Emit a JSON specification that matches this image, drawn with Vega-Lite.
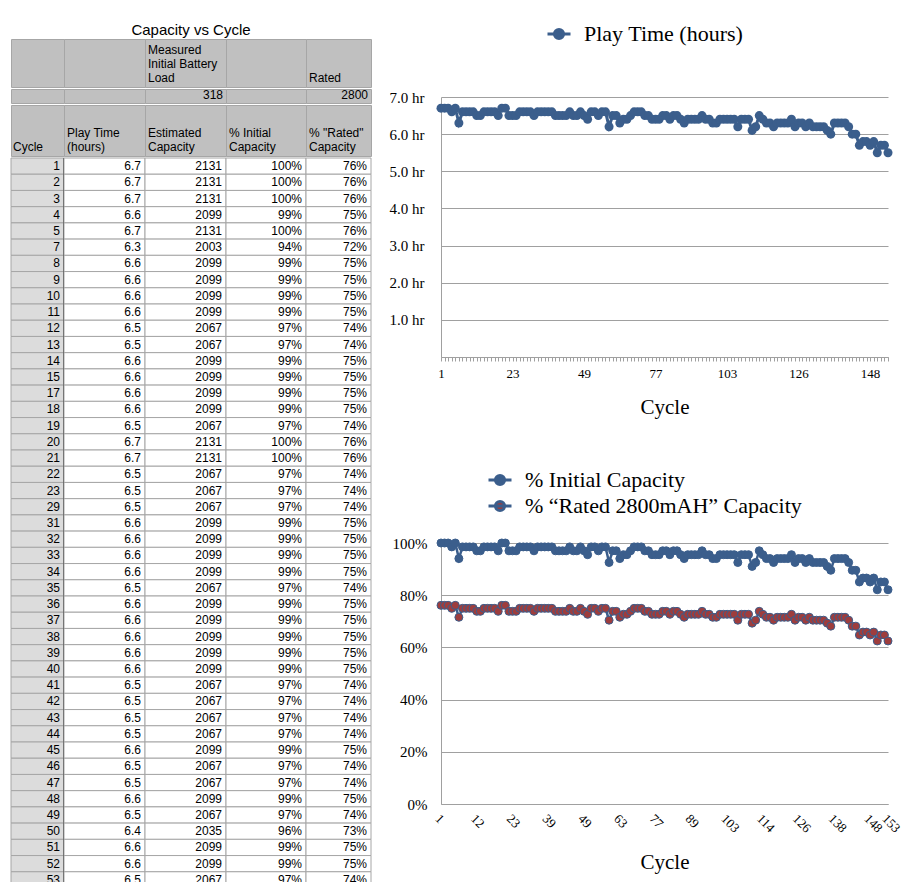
{
"$schema": "https://vega.github.io/schema/vega-lite/v6.json",
"padding": {"left": 10, "top": 21, "right": 8, "bottom": 0},
"background": "white",
"config": {
  "view": {"stroke": null},
  "font": "Liberation Serif",
  "axis": {"labelFont": "Liberation Serif", "titleFont": "Liberation Serif", "labelColor": "black", "titleColor": "black", "titleFontWeight": "normal", "gridColor": "#a0a0a0", "domainColor": "#a0a0a0", "tickColor": "#a0a0a0"},
  "legend": {"labelFont": "Liberation Serif", "labelColor": "black", "labelLimit": 0}
},
"datasets": {"cap": [
{"Cycle":1,"Play":6.7,"Capacity":2131,"PctInitial":1,"PctRated":0.7611},
{"Cycle":2,"Play":6.7,"Capacity":2131,"PctInitial":1,"PctRated":0.7611},
{"Cycle":3,"Play":6.7,"Capacity":2131,"PctInitial":1,"PctRated":0.7611},
{"Cycle":4,"Play":6.6,"Capacity":2099,"PctInitial":0.9851,"PctRated":0.7496},
{"Cycle":5,"Play":6.7,"Capacity":2131,"PctInitial":1,"PctRated":0.7611},
{"Cycle":7,"Play":6.3,"Capacity":2003,"PctInitial":0.9403,"PctRated":0.7154},
{"Cycle":8,"Play":6.6,"Capacity":2099,"PctInitial":0.9851,"PctRated":0.7496},
{"Cycle":9,"Play":6.6,"Capacity":2099,"PctInitial":0.9851,"PctRated":0.7496},
{"Cycle":10,"Play":6.6,"Capacity":2099,"PctInitial":0.9851,"PctRated":0.7496},
{"Cycle":11,"Play":6.6,"Capacity":2099,"PctInitial":0.9851,"PctRated":0.7496},
{"Cycle":12,"Play":6.5,"Capacity":2067,"PctInitial":0.9701,"PctRated":0.7382},
{"Cycle":13,"Play":6.5,"Capacity":2067,"PctInitial":0.9701,"PctRated":0.7382},
{"Cycle":14,"Play":6.6,"Capacity":2099,"PctInitial":0.9851,"PctRated":0.7496},
{"Cycle":15,"Play":6.6,"Capacity":2099,"PctInitial":0.9851,"PctRated":0.7496},
{"Cycle":17,"Play":6.6,"Capacity":2099,"PctInitial":0.9851,"PctRated":0.7496},
{"Cycle":18,"Play":6.6,"Capacity":2099,"PctInitial":0.9851,"PctRated":0.7496},
{"Cycle":19,"Play":6.5,"Capacity":2067,"PctInitial":0.9701,"PctRated":0.7382},
{"Cycle":20,"Play":6.7,"Capacity":2131,"PctInitial":1,"PctRated":0.7611},
{"Cycle":21,"Play":6.7,"Capacity":2131,"PctInitial":1,"PctRated":0.7611},
{"Cycle":22,"Play":6.5,"Capacity":2067,"PctInitial":0.9701,"PctRated":0.7382},
{"Cycle":23,"Play":6.5,"Capacity":2067,"PctInitial":0.9701,"PctRated":0.7382},
{"Cycle":29,"Play":6.5,"Capacity":2067,"PctInitial":0.9701,"PctRated":0.7382},
{"Cycle":31,"Play":6.6,"Capacity":2099,"PctInitial":0.9851,"PctRated":0.7496},
{"Cycle":32,"Play":6.6,"Capacity":2099,"PctInitial":0.9851,"PctRated":0.7496},
{"Cycle":33,"Play":6.6,"Capacity":2099,"PctInitial":0.9851,"PctRated":0.7496},
{"Cycle":34,"Play":6.6,"Capacity":2099,"PctInitial":0.9851,"PctRated":0.7496},
{"Cycle":35,"Play":6.5,"Capacity":2067,"PctInitial":0.9701,"PctRated":0.7382},
{"Cycle":36,"Play":6.6,"Capacity":2099,"PctInitial":0.9851,"PctRated":0.7496},
{"Cycle":37,"Play":6.6,"Capacity":2099,"PctInitial":0.9851,"PctRated":0.7496},
{"Cycle":38,"Play":6.6,"Capacity":2099,"PctInitial":0.9851,"PctRated":0.7496},
{"Cycle":39,"Play":6.6,"Capacity":2099,"PctInitial":0.9851,"PctRated":0.7496},
{"Cycle":40,"Play":6.6,"Capacity":2099,"PctInitial":0.9851,"PctRated":0.7496},
{"Cycle":41,"Play":6.5,"Capacity":2067,"PctInitial":0.9701,"PctRated":0.7382},
{"Cycle":42,"Play":6.5,"Capacity":2067,"PctInitial":0.9701,"PctRated":0.7382},
{"Cycle":43,"Play":6.5,"Capacity":2067,"PctInitial":0.9701,"PctRated":0.7382},
{"Cycle":44,"Play":6.5,"Capacity":2067,"PctInitial":0.9701,"PctRated":0.7382},
{"Cycle":45,"Play":6.6,"Capacity":2099,"PctInitial":0.9851,"PctRated":0.7496},
{"Cycle":46,"Play":6.5,"Capacity":2067,"PctInitial":0.9701,"PctRated":0.7382},
{"Cycle":47,"Play":6.5,"Capacity":2067,"PctInitial":0.9701,"PctRated":0.7382},
{"Cycle":48,"Play":6.6,"Capacity":2099,"PctInitial":0.9851,"PctRated":0.7496},
{"Cycle":49,"Play":6.5,"Capacity":2067,"PctInitial":0.9701,"PctRated":0.7382},
{"Cycle":50,"Play":6.4,"Capacity":2035,"PctInitial":0.9552,"PctRated":0.7268},
{"Cycle":51,"Play":6.6,"Capacity":2099,"PctInitial":0.9851,"PctRated":0.7496},
{"Cycle":52,"Play":6.6,"Capacity":2099,"PctInitial":0.9851,"PctRated":0.7496},
{"Cycle":53,"Play":6.5,"Capacity":2067,"PctInitial":0.9701,"PctRated":0.7382},
{"Cycle":54,"Play":6.6,"Capacity":2099,"PctInitial":0.9851,"PctRated":0.7496},
{"Cycle":55,"Play":6.6,"Capacity":2099,"PctInitial":0.9851,"PctRated":0.7496},
{"Cycle":57,"Play":6.2,"Capacity":1972,"PctInitial":0.9254,"PctRated":0.7043},
{"Cycle":59,"Play":6.5,"Capacity":2067,"PctInitial":0.9701,"PctRated":0.7382},
{"Cycle":61,"Play":6.5,"Capacity":2067,"PctInitial":0.9701,"PctRated":0.7382},
{"Cycle":63,"Play":6.3,"Capacity":2003,"PctInitial":0.9403,"PctRated":0.7154},
{"Cycle":64,"Play":6.4,"Capacity":2035,"PctInitial":0.9552,"PctRated":0.7268},
{"Cycle":65,"Play":6.4,"Capacity":2035,"PctInitial":0.9552,"PctRated":0.7268},
{"Cycle":67,"Play":6.5,"Capacity":2067,"PctInitial":0.9701,"PctRated":0.7382},
{"Cycle":68,"Play":6.6,"Capacity":2099,"PctInitial":0.9851,"PctRated":0.7496},
{"Cycle":70,"Play":6.6,"Capacity":2099,"PctInitial":0.9851,"PctRated":0.7496},
{"Cycle":71,"Play":6.6,"Capacity":2099,"PctInitial":0.9851,"PctRated":0.7496},
{"Cycle":73,"Play":6.5,"Capacity":2067,"PctInitial":0.9701,"PctRated":0.7382},
{"Cycle":74,"Play":6.5,"Capacity":2067,"PctInitial":0.9701,"PctRated":0.7382},
{"Cycle":76,"Play":6.4,"Capacity":2035,"PctInitial":0.9552,"PctRated":0.7268},
{"Cycle":77,"Play":6.4,"Capacity":2035,"PctInitial":0.9552,"PctRated":0.7268},
{"Cycle":78,"Play":6.4,"Capacity":2035,"PctInitial":0.9552,"PctRated":0.7268},
{"Cycle":79,"Play":6.5,"Capacity":2067,"PctInitial":0.9701,"PctRated":0.7382},
{"Cycle":80,"Play":6.5,"Capacity":2067,"PctInitial":0.9701,"PctRated":0.7382},
{"Cycle":82,"Play":6.4,"Capacity":2035,"PctInitial":0.9552,"PctRated":0.7268},
{"Cycle":83,"Play":6.5,"Capacity":2067,"PctInitial":0.9701,"PctRated":0.7382},
{"Cycle":84,"Play":6.5,"Capacity":2067,"PctInitial":0.9701,"PctRated":0.7382},
{"Cycle":85,"Play":6.4,"Capacity":2035,"PctInitial":0.9552,"PctRated":0.7268},
{"Cycle":86,"Play":6.3,"Capacity":2003,"PctInitial":0.9403,"PctRated":0.7154},
{"Cycle":88,"Play":6.4,"Capacity":2035,"PctInitial":0.9552,"PctRated":0.7268},
{"Cycle":89,"Play":6.4,"Capacity":2035,"PctInitial":0.9552,"PctRated":0.7268},
{"Cycle":90,"Play":6.4,"Capacity":2035,"PctInitial":0.9552,"PctRated":0.7268},
{"Cycle":92,"Play":6.4,"Capacity":2035,"PctInitial":0.9552,"PctRated":0.7268},
{"Cycle":93,"Play":6.5,"Capacity":2067,"PctInitial":0.9701,"PctRated":0.7382},
{"Cycle":95,"Play":6.4,"Capacity":2035,"PctInitial":0.9552,"PctRated":0.7268},
{"Cycle":96,"Play":6.4,"Capacity":2035,"PctInitial":0.9552,"PctRated":0.7268},
{"Cycle":98,"Play":6.3,"Capacity":2003,"PctInitial":0.9403,"PctRated":0.7154},
{"Cycle":99,"Play":6.3,"Capacity":2003,"PctInitial":0.9403,"PctRated":0.7154},
{"Cycle":100,"Play":6.4,"Capacity":2035,"PctInitial":0.9552,"PctRated":0.7268},
{"Cycle":102,"Play":6.4,"Capacity":2035,"PctInitial":0.9552,"PctRated":0.7268},
{"Cycle":103,"Play":6.4,"Capacity":2035,"PctInitial":0.9552,"PctRated":0.7268},
{"Cycle":104,"Play":6.4,"Capacity":2035,"PctInitial":0.9552,"PctRated":0.7268},
{"Cycle":105,"Play":6.4,"Capacity":2035,"PctInitial":0.9552,"PctRated":0.7268},
{"Cycle":106,"Play":6.2,"Capacity":1972,"PctInitial":0.9254,"PctRated":0.7043},
{"Cycle":107,"Play":6.4,"Capacity":2035,"PctInitial":0.9552,"PctRated":0.7268},
{"Cycle":108,"Play":6.4,"Capacity":2035,"PctInitial":0.9552,"PctRated":0.7268},
{"Cycle":109,"Play":6.4,"Capacity":2035,"PctInitial":0.9552,"PctRated":0.7268},
{"Cycle":110,"Play":6.1,"Capacity":1940,"PctInitial":0.9104,"PctRated":0.6929},
{"Cycle":111,"Play":6.2,"Capacity":1972,"PctInitial":0.9254,"PctRated":0.7043},
{"Cycle":113,"Play":6.5,"Capacity":2067,"PctInitial":0.9701,"PctRated":0.7382},
{"Cycle":114,"Play":6.4,"Capacity":2035,"PctInitial":0.9552,"PctRated":0.7268},
{"Cycle":115,"Play":6.3,"Capacity":2003,"PctInitial":0.9403,"PctRated":0.7154},
{"Cycle":116,"Play":6.3,"Capacity":2003,"PctInitial":0.9403,"PctRated":0.7154},
{"Cycle":117,"Play":6.2,"Capacity":1972,"PctInitial":0.9254,"PctRated":0.7043},
{"Cycle":119,"Play":6.3,"Capacity":2003,"PctInitial":0.9403,"PctRated":0.7154},
{"Cycle":120,"Play":6.3,"Capacity":2003,"PctInitial":0.9403,"PctRated":0.7154},
{"Cycle":121,"Play":6.3,"Capacity":2003,"PctInitial":0.9403,"PctRated":0.7154},
{"Cycle":122,"Play":6.3,"Capacity":2003,"PctInitial":0.9403,"PctRated":0.7154},
{"Cycle":123,"Play":6.4,"Capacity":2035,"PctInitial":0.9552,"PctRated":0.7268},
{"Cycle":125,"Play":6.2,"Capacity":1972,"PctInitial":0.9254,"PctRated":0.7043},
{"Cycle":126,"Play":6.3,"Capacity":2003,"PctInitial":0.9403,"PctRated":0.7154},
{"Cycle":127,"Play":6.3,"Capacity":2003,"PctInitial":0.9403,"PctRated":0.7154},
{"Cycle":128,"Play":6.2,"Capacity":1972,"PctInitial":0.9254,"PctRated":0.7043},
{"Cycle":129,"Play":6.3,"Capacity":2003,"PctInitial":0.9403,"PctRated":0.7154},
{"Cycle":130,"Play":6.2,"Capacity":1972,"PctInitial":0.9254,"PctRated":0.7043},
{"Cycle":132,"Play":6.2,"Capacity":1972,"PctInitial":0.9254,"PctRated":0.7043},
{"Cycle":133,"Play":6.2,"Capacity":1972,"PctInitial":0.9254,"PctRated":0.7043},
{"Cycle":134,"Play":6.2,"Capacity":1972,"PctInitial":0.9254,"PctRated":0.7043},
{"Cycle":135,"Play":6.1,"Capacity":1940,"PctInitial":0.9104,"PctRated":0.6929},
{"Cycle":137,"Play":6.0,"Capacity":1908,"PctInitial":0.8955,"PctRated":0.6814},
{"Cycle":138,"Play":6.3,"Capacity":2003,"PctInitial":0.9403,"PctRated":0.7154},
{"Cycle":139,"Play":6.3,"Capacity":2003,"PctInitial":0.9403,"PctRated":0.7154},
{"Cycle":140,"Play":6.3,"Capacity":2003,"PctInitial":0.9403,"PctRated":0.7154},
{"Cycle":141,"Play":6.3,"Capacity":2003,"PctInitial":0.9403,"PctRated":0.7154},
{"Cycle":142,"Play":6.2,"Capacity":1972,"PctInitial":0.9254,"PctRated":0.7043},
{"Cycle":143,"Play":6.0,"Capacity":1908,"PctInitial":0.8955,"PctRated":0.6814},
{"Cycle":144,"Play":6.0,"Capacity":1908,"PctInitial":0.8955,"PctRated":0.6814},
{"Cycle":145,"Play":5.7,"Capacity":1813,"PctInitial":0.8507,"PctRated":0.6475},
{"Cycle":146,"Play":5.8,"Capacity":1844,"PctInitial":0.8657,"PctRated":0.6586},
{"Cycle":147,"Play":5.8,"Capacity":1844,"PctInitial":0.8657,"PctRated":0.6586},
{"Cycle":148,"Play":5.7,"Capacity":1813,"PctInitial":0.8507,"PctRated":0.6475},
{"Cycle":149,"Play":5.8,"Capacity":1844,"PctInitial":0.8657,"PctRated":0.6586},
{"Cycle":150,"Play":5.5,"Capacity":1749,"PctInitial":0.8209,"PctRated":0.6246},
{"Cycle":151,"Play":5.7,"Capacity":1813,"PctInitial":0.8507,"PctRated":0.6475},
{"Cycle":152,"Play":5.7,"Capacity":1813,"PctInitial":0.8507,"PctRated":0.6475},
{"Cycle":153,"Play":5.5,"Capacity":1749,"PctInitial":0.8209,"PctRated":0.6246}
]},
"resolve": {"scale": {"x": "independent", "y": "independent", "color": "independent"}},
"spacing": 17,
"hconcat": [
 {
  "title": {"text": "Capacity vs Cycle", "font": "Liberation Sans", "fontSize": 15, "fontWeight": "normal", "anchor": "middle", "offset": 1, "color": "black"},
  "spacing": 0,
  "vconcat": [
   {"bounds": "flush", "spacing": 0, "hconcat": [
     {"width": 53, "height": 48, "view": {"fill": "#c0c0c0", "stroke": "#a6a6a6"}, "data": {"values": [{"t": ""}]}, "mark": {"type": "text", "align": "left", "baseline": "bottom", "dx": 3, "dy": -2, "font": "Liberation Sans", "fontSize": 12, "lineHeight": 14, "color": "black"}, "encoding": {"x": {"value": 0}, "y": {"value": "height"}, "text": {"field": "t"}}},
     {"width": 81, "height": 48, "view": {"fill": "#c0c0c0", "stroke": "#a6a6a6"}, "data": {"values": [{"t": ""}]}, "mark": {"type": "text", "align": "left", "baseline": "bottom", "dx": 3, "dy": -2, "font": "Liberation Sans", "fontSize": 12, "lineHeight": 14, "color": "black"}, "encoding": {"x": {"value": 0}, "y": {"value": "height"}, "text": {"field": "t"}}},
     {"width": 81, "height": 48, "view": {"fill": "#c0c0c0", "stroke": "#a6a6a6"}, "data": {"values": [{"t": ["Measured", "Initial Battery", "Load"]}]}, "mark": {"type": "text", "align": "left", "baseline": "bottom", "dx": 3, "dy": -30, "font": "Liberation Sans", "fontSize": 12, "lineHeight": 14, "color": "black"}, "encoding": {"x": {"value": 0}, "y": {"value": "height"}, "text": {"field": "t"}}},
     {"width": 80, "height": 48, "view": {"fill": "#c0c0c0", "stroke": "#a6a6a6"}, "data": {"values": [{"t": ""}]}, "mark": {"type": "text", "align": "left", "baseline": "bottom", "dx": 3, "dy": -2, "font": "Liberation Sans", "fontSize": 12, "lineHeight": 14, "color": "black"}, "encoding": {"x": {"value": 0}, "y": {"value": "height"}, "text": {"field": "t"}}},
     {"width": 65, "height": 48, "view": {"fill": "#c0c0c0", "stroke": "#a6a6a6"}, "data": {"values": [{"t": "Rated"}]}, "mark": {"type": "text", "align": "left", "baseline": "bottom", "dx": 3, "dy": -2, "font": "Liberation Sans", "fontSize": 12, "lineHeight": 14, "color": "black"}, "encoding": {"x": {"value": 0}, "y": {"value": "height"}, "text": {"field": "t"}}}
   ]},
   {"bounds": "flush", "spacing": 0, "hconcat": [
     {"width": 53, "height": 14, "view": {"fill": "#c0c0c0", "stroke": "#a6a6a6"}, "data": {"values": [{"t": ""}]}, "mark": {"type": "text", "align": "right", "baseline": "bottom", "dx": -3, "dy": -1, "font": "Liberation Sans", "fontSize": 12, "color": "black"}, "encoding": {"x": {"value": "width"}, "y": {"value": "height"}, "text": {"field": "t"}}},
     {"width": 81, "height": 14, "view": {"fill": "#c0c0c0", "stroke": "#a6a6a6"}, "data": {"values": [{"t": ""}]}, "mark": {"type": "text", "align": "right", "baseline": "bottom", "dx": -3, "dy": -1, "font": "Liberation Sans", "fontSize": 12, "color": "black"}, "encoding": {"x": {"value": "width"}, "y": {"value": "height"}, "text": {"field": "t"}}},
     {"width": 81, "height": 14, "view": {"fill": "#c0c0c0", "stroke": "#a6a6a6"}, "data": {"values": [{"t": "318"}]}, "mark": {"type": "text", "align": "right", "baseline": "bottom", "dx": -3, "dy": -1, "font": "Liberation Sans", "fontSize": 12, "color": "black"}, "encoding": {"x": {"value": "width"}, "y": {"value": "height"}, "text": {"field": "t"}}},
     {"width": 80, "height": 14, "view": {"fill": "#c0c0c0", "stroke": "#a6a6a6"}, "data": {"values": [{"t": ""}]}, "mark": {"type": "text", "align": "right", "baseline": "bottom", "dx": -3, "dy": -1, "font": "Liberation Sans", "fontSize": 12, "color": "black"}, "encoding": {"x": {"value": "width"}, "y": {"value": "height"}, "text": {"field": "t"}}},
     {"width": 65, "height": 14, "view": {"fill": "#c0c0c0", "stroke": "#a6a6a6"}, "data": {"values": [{"t": "2800"}]}, "mark": {"type": "text", "align": "right", "baseline": "bottom", "dx": -3, "dy": -1, "font": "Liberation Sans", "fontSize": 12, "color": "black"}, "encoding": {"x": {"value": "width"}, "y": {"value": "height"}, "text": {"field": "t"}}}
   ]},
   {"bounds": "flush", "spacing": 0, "hconcat": [
     {"width": 53, "height": 51, "view": {"fill": "#c0c0c0", "stroke": "#a6a6a6"}, "data": {"values": [{"t": "Cycle"}]}, "mark": {"type": "text", "align": "left", "baseline": "bottom", "dx": 2, "dy": -2, "font": "Liberation Sans", "fontSize": 12, "lineHeight": 14, "color": "black"}, "encoding": {"x": {"value": 0}, "y": {"value": "height"}, "text": {"field": "t"}}},
     {"width": 81, "height": 51, "view": {"fill": "#c0c0c0", "stroke": "#a6a6a6"}, "data": {"values": [{"t": ["Play Time", "(hours)"]}]}, "mark": {"type": "text", "align": "left", "baseline": "bottom", "dx": 3, "dy": -16, "font": "Liberation Sans", "fontSize": 12, "lineHeight": 14, "color": "black"}, "encoding": {"x": {"value": 0}, "y": {"value": "height"}, "text": {"field": "t"}}},
     {"width": 81, "height": 51, "view": {"fill": "#c0c0c0", "stroke": "#a6a6a6"}, "data": {"values": [{"t": ["Estimated", "Capacity"]}]}, "mark": {"type": "text", "align": "left", "baseline": "bottom", "dx": 3, "dy": -16, "font": "Liberation Sans", "fontSize": 12, "lineHeight": 14, "color": "black"}, "encoding": {"x": {"value": 0}, "y": {"value": "height"}, "text": {"field": "t"}}},
     {"width": 80, "height": 51, "view": {"fill": "#c0c0c0", "stroke": "#a6a6a6"}, "data": {"values": [{"t": ["% Initial", "Capacity"]}]}, "mark": {"type": "text", "align": "left", "baseline": "bottom", "dx": 3, "dy": -16, "font": "Liberation Sans", "fontSize": 12, "lineHeight": 14, "color": "black"}, "encoding": {"x": {"value": 0}, "y": {"value": "height"}, "text": {"field": "t"}}},
     {"width": 65, "height": 51, "view": {"fill": "#c0c0c0", "stroke": "#a6a6a6"}, "data": {"values": [{"t": ["% \"Rated\"", "Capacity"]}]}, "mark": {"type": "text", "align": "left", "baseline": "bottom", "dx": 3, "dy": -16, "font": "Liberation Sans", "fontSize": 12, "lineHeight": 14, "color": "black"}, "encoding": {"x": {"value": 0}, "y": {"value": "height"}, "text": {"field": "t"}}}
   ]},
   {"bounds": "flush", "spacing": 0, "hconcat": [
     {"width": 53, "height": 730, "data": {"name": "cap"}, "transform": [{"filter": "datum.Cycle <= 53"}],
      "layer": [
       {"mark": {"type": "rect", "fill": "#dcdcdc", "stroke": "#a6a6a6", "strokeWidth": 1}, "encoding": {"y": {"field": "Cycle", "type": "ordinal", "axis": null}}},
       {"mark": {"type": "rule", "color": "#444444", "strokeWidth": 1.5}, "encoding": {"x": {"value": "width"}}},
       {"mark": {"type": "text", "align": "right", "dx": -4, "font": "Liberation Sans", "fontSize": 12, "color": "black"}, "encoding": {"x": {"value": "width"}, "y": {"field": "Cycle", "type": "ordinal", "axis": null}, "text": {"field": "Cycle", "type": "quantitative", "format": "d"}}}
      ]},
     {"width": 81, "height": 730, "data": {"name": "cap"}, "transform": [{"filter": "datum.Cycle <= 53"}],
      "layer": [
       {"mark": {"type": "rect", "fill": "white", "stroke": "#a6a6a6", "strokeWidth": 1}, "encoding": {"y": {"field": "Cycle", "type": "ordinal", "axis": null}}},
       {"mark": {"type": "text", "align": "right", "dx": -4, "font": "Liberation Sans", "fontSize": 12, "color": "black"}, "encoding": {"x": {"value": "width"}, "y": {"field": "Cycle", "type": "ordinal", "axis": null}, "text": {"field": "Play", "type": "quantitative", "format": ".1f"}}}
      ]},
     {"width": 81, "height": 730, "data": {"name": "cap"}, "transform": [{"filter": "datum.Cycle <= 53"}],
      "layer": [
       {"mark": {"type": "rect", "fill": "white", "stroke": "#a6a6a6", "strokeWidth": 1}, "encoding": {"y": {"field": "Cycle", "type": "ordinal", "axis": null}}},
       {"mark": {"type": "text", "align": "right", "dx": -4, "font": "Liberation Sans", "fontSize": 12, "color": "black"}, "encoding": {"x": {"value": "width"}, "y": {"field": "Cycle", "type": "ordinal", "axis": null}, "text": {"field": "Capacity", "type": "quantitative", "format": "d"}}}
      ]},
     {"width": 80, "height": 730, "data": {"name": "cap"}, "transform": [{"filter": "datum.Cycle <= 53"}],
      "layer": [
       {"mark": {"type": "rect", "fill": "white", "stroke": "#a6a6a6", "strokeWidth": 1}, "encoding": {"y": {"field": "Cycle", "type": "ordinal", "axis": null}}},
       {"mark": {"type": "text", "align": "right", "dx": -4, "font": "Liberation Sans", "fontSize": 12, "color": "black"}, "encoding": {"x": {"value": "width"}, "y": {"field": "Cycle", "type": "ordinal", "axis": null}, "text": {"field": "PctInitial", "type": "quantitative", "format": ".0%"}}}
      ]},
     {"width": 65, "height": 730, "data": {"name": "cap"}, "transform": [{"filter": "datum.Cycle <= 53"}],
      "layer": [
       {"mark": {"type": "rect", "fill": "white", "stroke": "#a6a6a6", "strokeWidth": 1}, "encoding": {"y": {"field": "Cycle", "type": "ordinal", "axis": null}}},
       {"mark": {"type": "text", "align": "right", "dx": -4, "font": "Liberation Sans", "fontSize": 12, "color": "black"}, "encoding": {"x": {"value": "width"}, "y": {"field": "Cycle", "type": "ordinal", "axis": null}, "text": {"field": "PctRated", "type": "quantitative", "format": ".0%"}}}
      ]}
   ]}
  ]
 },
 {
  "spacing": 50,
  "resolve": {"scale": {"x": "independent", "y": "independent", "color": "independent"}},
  "vconcat": [
   {
    "spacing": 45,
    "resolve": {"scale": {"x": "independent", "y": "independent", "color": "independent"}},
    "vconcat": [
     {
      "width": 447, "height": 1,
      "data": {"name": "cap"},
      "mark": {"type": "point", "filled": true, "opacity": 0},
      "encoding": {"color": {"datum": "Play Time (hours)", "type": "nominal", "scale": {"range": ["#3b5e8c"]},
        "legend": {"orient": "none", "legendX": 105, "legendY": -18, "title": null, "symbolType": "M-1,0L1,0M0.4,0A0.4,0.4,0,1,1,-0.4,0A0.4,0.4,0,1,1,0.4,0", "symbolSize": 529, "symbolStrokeWidth": 3, "symbolStrokeColor": "#3b5e8c", "symbolOpacity": 1, "labelFontSize": 22, "labelOffset": 12,
          "encode": {"symbols": {"update": {"opacity": {"value": 1}, "fillOpacity": {"value": 1}, "strokeOpacity": {"value": 1}, "stroke": {"value": "#3b5e8c"}, "strokeWidth": {"value": 3}}}}}}}
     },
     {
      "width": 447, "height": 260,
      "data": {"name": "cap"},
      "encoding": {
       "x": {"field": "Cycle", "type": "ordinal", "scale": {"type": "point", "padding": 0},
         "axis": {"labelExpr": "indexof([1,23,49,77,103,126,148], datum.value) >= 0 ? datum.label : ''", "labelOverlap": false, "labelAngle": 0, "labelFontSize": 13, "tickSize": 4, "labelPadding": 6, "title": "Cycle", "titleFontSize": 21, "titlePadding": 16, "grid": false}},
       "y": {"field": "Play", "type": "quantitative", "scale": {"domain": [0, 7]},
         "axis": {"values": [0, 1, 2, 3, 4, 5, 6, 7], "labelExpr": "datum.value == 0 ? '' : format(datum.value, '.1f') + ' hr'", "ticks": false, "labelPadding": 17, "labelFontSize": 15, "title": null, "grid": true}}
      },
      "layer": [
       {"mark": {"type": "line", "color": "#3b5e8c", "strokeWidth": 3}},
       {"mark": {"type": "point", "filled": true, "size": 81, "opacity": 1, "color": "#3b5e8c"}}
      ]
     }
    ]
   },
   {
    "width": 447, "height": 261,
    "data": {"name": "cap"},
    "transform": [{"fold": ["PctInitial", "PctRated"], "as": ["Series", "Pct"]}],
    "encoding": {
     "x": {"field": "Cycle", "type": "ordinal", "scale": {"type": "point", "padding": 0},
       "axis": {"values": [1, 12, 23, 39, 49, 63, 77, 89, 103, 114, 126, 138, 148, 153], "labelOverlap": false, "labelAngle": 45, "labelAlign": "left", "labelBaseline": "top", "ticks": false, "labelFontSize": 13, "labelPadding": 8, "title": "Cycle", "titleFontSize": 21, "titlePadding": 17, "grid": false}},
     "y": {"field": "Pct", "type": "quantitative", "scale": {"domain": [0, 1]},
       "axis": {"values": [0, 0.2, 0.4, 0.6, 0.8, 1], "format": ".0%", "ticks": false, "labelPadding": 14, "labelFontSize": 15, "title": null, "grid": true}}
    },
    "layer": [
     {"mark": {"type": "line", "color": "#3b5e8c", "strokeWidth": 2.5}, "encoding": {"detail": {"field": "Series"}}},
     {"mark": {"type": "point", "filled": true, "size": 64, "opacity": 1, "stroke": "#3b5e8c", "strokeWidth": 1},
      "encoding": {"color": {"field": "Series", "type": "nominal", "scale": {"domain": ["PctInitial", "PctRated"], "range": ["#3b5e8c", "#9e3d3d"]},
        "legend": {"orient": "none", "legendX": 46, "legendY": -76, "title": null, "labelLimit": 0, "labelExpr": "datum.value == 'PctInitial' ? '% Initial Capacity' : '% “Rated 2800mAH” Capacity'", "symbolType": "M-1,0L1,0M0.4,0A0.4,0.4,0,1,1,-0.4,0A0.4,0.4,0,1,1,0.4,0", "symbolSize": 529, "symbolStrokeWidth": 3, "symbolStrokeColor": "#3b5e8c", "labelFontSize": 22, "labelOffset": 12, "rowPadding": 2,
          "encode": {"symbols": {"update": {"stroke": {"value": "#3b5e8c"}, "strokeWidth": {"value": 3}}}}}}}}
    ]
   }
  ]
 }
]
}
